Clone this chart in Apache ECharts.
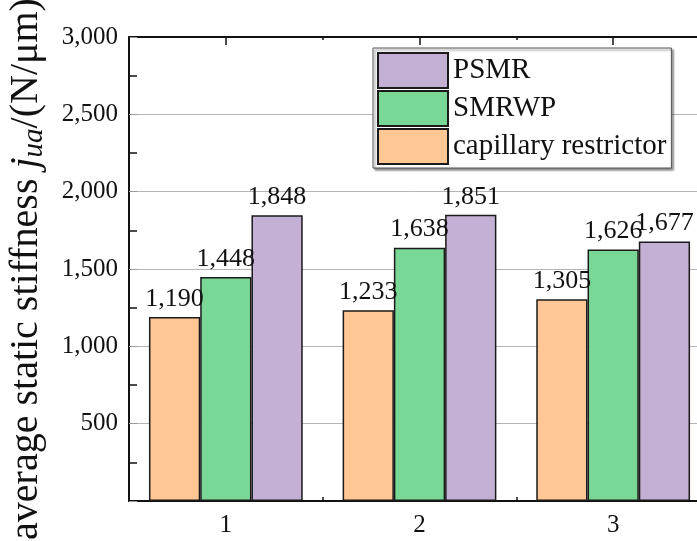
<!DOCTYPE html>
<html>
<head>
<meta charset="utf-8">
<script src="https://cdn.jsdelivr.net/npm/echarts@6/dist/echarts.min.js"></script>
<style>
  html, body { margin: 0; padding: 0; background: #fff; }
  #chart { width: 697px; height: 541px; }
</style>
</head>
<body>
<div id="chart"></div>
<script>
// Average static stiffness per test case for three restrictor designs
const categories = ['1', '2', '3'];
const capillaryRestrictor = [1190, 1233, 1305];
const smrwp = [1448, 1638, 1626];
const psmr = [1848, 1851, 1677];
const legendOrder = ['PSMR', 'SMRWP', 'capillary restrictor'];
const yTicks = { min: 0, max: 3000, interval: 500 };

const FONT = "'Liberation Serif', 'Times New Roman', serif";
const fmt = v => Number(v).toLocaleString('en-US');

function barSeries(name, data, color) {
  return {
    name: name,
    type: 'bar',
    data: data,
    barGap: '0%',
    barCategoryGap: '20.6%',
    itemStyle: { color: color, borderColor: '#1a1a1a', borderWidth: 1.5 },
    label: {
      show: true,
      position: 'top',
      distance: 5,
      fontFamily: FONT,
      fontSize: 26,
      color: '#111',
      formatter: p => fmt(p.value)
    }
  };
}

const chart = echarts.init(document.getElementById('chart'), null, { renderer: 'canvas' });
chart.setOption({
  animation: false,
  backgroundColor: '#fff',
  textStyle: { fontFamily: FONT },
  // the plot frame runs past the right edge of the canvas
  grid: { left: 129, top: 37, width: 581, height: 464, outerBoundsMode: 'none', containLabel: false },
  legend: {
    data: legendOrder,
    orient: 'vertical',
    left: 373,
    top: 48,
    padding: [4, 5, 3, 4],
    itemWidth: 70,
    itemHeight: 35,
    itemGap: 1,
    icon: 'rect',
    backgroundColor: '#fff',
    borderColor: '#555',
    borderWidth: 1,
    shadowColor: 'rgba(0,0,0,0.45)',
    shadowBlur: 2,
    shadowOffsetX: 2,
    shadowOffsetY: 2,
    textStyle: { fontFamily: FONT, fontSize: 29, color: '#111', lineHeight: 35 }
  },
  xAxis: [
    {
      type: 'category',
      data: categories,
      position: 'bottom',
      axisLine: { lineStyle: { color: '#111', width: 2 } },
      axisTick: { show: true, inside: true, length: 4, lineStyle: { color: '#111', width: 1.5 } },
      axisLabel: { fontFamily: FONT, fontSize: 25, color: '#111', margin: 12 }
    },
    {
      type: 'category',
      data: categories,
      position: 'top',
      axisLine: { show: true, lineStyle: { color: '#111', width: 2 } },
      axisTick: { show: true, inside: true, alignWithLabel: true, length: 8, lineStyle: { color: '#111', width: 1.5 } },
      axisLabel: { show: false }
    },
    {
      type: 'category',
      data: categories,
      position: 'top',
      axisLine: { show: false },
      axisTick: { show: true, inside: true, length: 3, lineStyle: { color: '#111', width: 1.5 } },
      axisLabel: { show: false }
    }
  ],
  yAxis: {
    type: 'value',
    min: yTicks.min,
    max: yTicks.max,
    interval: yTicks.interval,
    name: '{t|average static stiffness }{j|j}{s|ua}{t|/(N/μm)}',
    nameLocation: 'middle',
    nameGap: 80,
    nameTextStyle: {
      rich: {
        t: { fontFamily: FONT, fontSize: 40, color: '#111', lineHeight: 46 },
        j: { fontFamily: FONT, fontSize: 40, fontStyle: 'italic', color: '#111', lineHeight: 46 },
        s: { fontFamily: FONT, fontSize: 29, fontStyle: 'italic', color: '#111', verticalAlign: 'bottom', lineHeight: 46 }
      }
    },
    axisLine: { show: true, lineStyle: { color: '#111', width: 2 } },
    axisTick: { show: true, inside: true, length: 8, lineStyle: { color: '#999', width: 1 } },
    minorTick: { show: true, splitNumber: 2, length: 8, lineStyle: { color: '#111', width: 1.5 } },
    splitLine: { show: true, lineStyle: { color: '#b5b5b5', width: 1 } },
    axisLabel: {
      fontFamily: FONT,
      fontSize: 25,
      color: '#111',
      margin: 11,
      formatter: v => (v === 0 ? '' : fmt(v))
    }
  },
  series: [
    barSeries('capillary restrictor', capillaryRestrictor, '#FEC793'),
    barSeries('SMRWP', smrwp, '#7AD897'),
    barSeries('PSMR', psmr, '#C5B0D5')
  ]
});
</script>
</body>
</html>
